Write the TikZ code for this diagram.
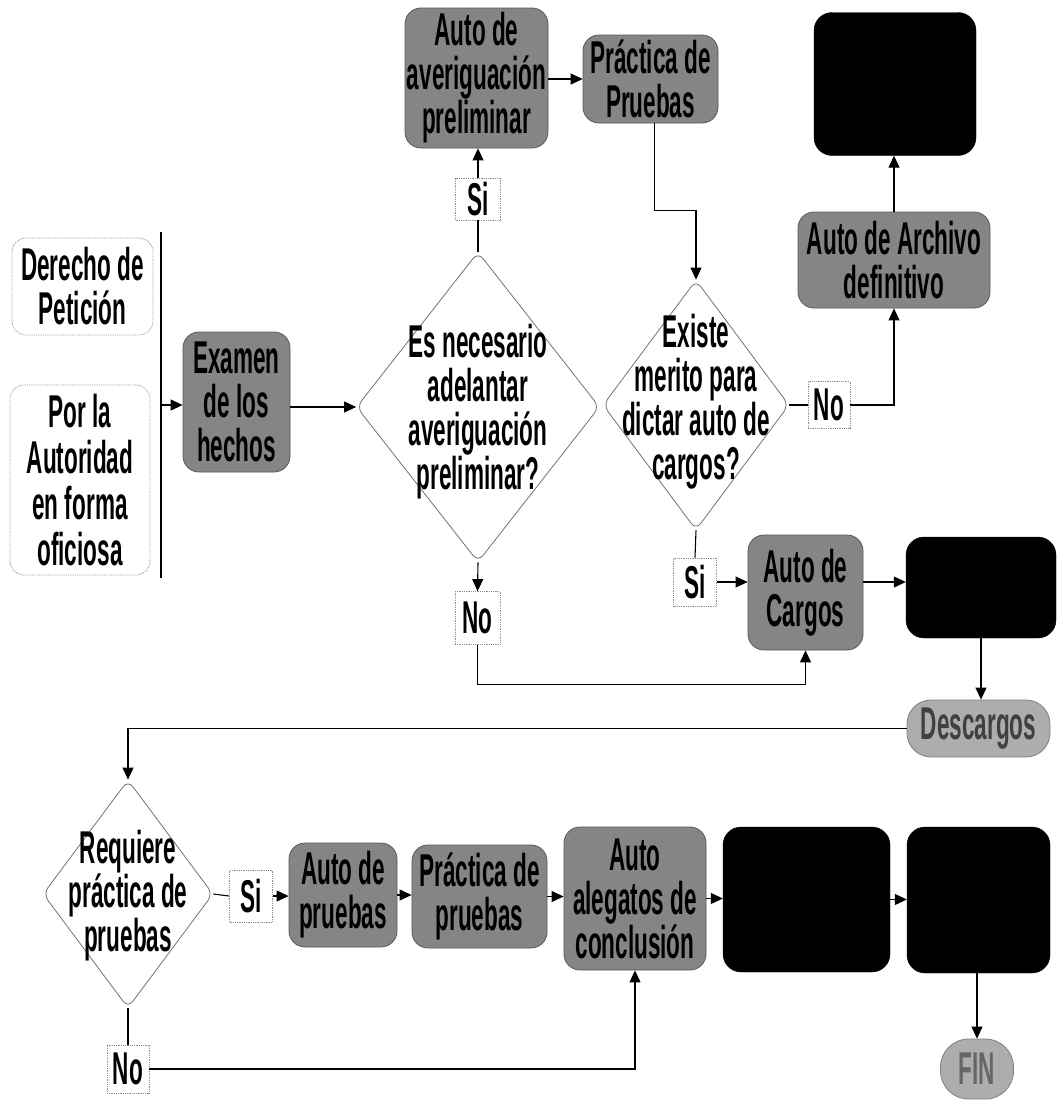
\documentclass[tikz,border=0pt]{standalone}
\usepackage{fontspec}
\setmainfont{Liberation Sans}[FakeStretch=0.49]
\usetikzlibrary{shapes.geometric,arrows.meta}
\begin{document}
\begin{tikzpicture}[x=1pt,y=-1pt,
  every node/.style={font=\fontsize{46}{44}\selectfont\bfseries, align=center, inner sep=0pt},
  gbox/.style={rectangle, rounded corners=16pt, fill=black!48, draw=black!65, line width=0.8pt},
  lbox/.style={rectangle, rounded corners=16pt, fill=black!32, draw=black!50, line width=0.8pt, text=black!75},
  bbox/.style={rectangle, rounded corners=18pt, fill=black, draw=black},
  wbox/.style={rectangle, rounded corners=14pt, draw=black!45, densely dotted, line width=0.8pt},
  lab/.style={rectangle, draw=black!45, densely dotted, fill=white, line width=0.8pt},
  dia/.style={diamond, draw=black!55, rounded corners=8pt, line width=0.8pt, fill=white},
  conn/.style={line width=1.1pt, draw=black},
  arr/.style={conn, -{Triangle[length=12pt,width=11pt]}},
]
\useasboundingbox (0,0) rectangle (1057,1100);

% left sources
\node[wbox, minimum width=141, minimum height=97] (der) at (82.5,286.5) {Derecho de\\Petición};
\node[wbox, minimum width=140, minimum height=190, font=\fontsize{46}{46}\selectfont\bfseries] (por) at (80,480) {Por la\\Autoridad\\en forma\\oficiosa};
\coordinate (vtop) at (161,232);
\coordinate (vbot) at (161,578);
\coordinate (vl) at (161,405);
\draw[conn] (vtop) -- (vbot);

\node[gbox, minimum width=107, minimum height=140] (exa) at (236.5,402) {Examen\\de los\\hechos};

% decision 1
\node[dia, minimum width=243, minimum height=310] (d1) at (478,407) {};
\node (d1t) at (478,412) {Es necesario\\adelantar\\averiguación\\preliminar?};
\node[lab, minimum width=45, minimum height=42] (si1) at (478,199) {Si};
\node[gbox, minimum width=143, minimum height=140] (aap) at (476.5,78) {Auto de\\averiguación\\preliminar};
\node[gbox, minimum width=135, minimum height=88] (ppr) at (650.5,79) {Práctica de\\Pruebas};
\node[lab, minimum width=45, minimum height=53] (no1) at (477.5,618) {No};

% decision 2
\node[dia, minimum width=186, minimum height=250] (d2) at (696,405) {};
\node (d2t) at (696,402) {Existe\\merito para\\dictar auto de\\cargos?};
\node[lab, minimum width=42, minimum height=47] (no2) at (829,405) {No};
\node[gbox, minimum width=192, minimum height=96] (arc) at (894,260) {Auto de Archivo\\definitivo};
\node[bbox, minimum width=162, minimum height=143] (blk1) at (895,84) {};
\node[lab, minimum width=43, minimum height=48] (si2) at (695,582) {Si};
\node[gbox, minimum width=115, minimum height=115] (acg) at (805.5,592.5) {Auto de\\Cargos};
\node[bbox, minimum width=150, minimum height=101] (blk2) at (981,587.5) {};
\node[lbox, rounded corners=24pt, minimum width=143, minimum height=57] (des) at (978.5,728.5) {Descargos};

% decision 3
\node[dia, minimum width=170, minimum height=228] (d3) at (128,894) {};
\node (d3t) at (128,896) {Requiere\\práctica de\\pruebas};
\node[lab, minimum width=43, minimum height=52] (si3) at (251,896) {Si};
\node[gbox, minimum width=108, minimum height=104] (apr) at (343,895) {Auto de\\pruebas};
\node[gbox, minimum width=135, minimum height=103] (ppr2) at (479.5,896.5) {Práctica de\\pruebas};
\node[gbox, minimum width=142, minimum height=143] (ale) at (635,898.5) {Auto\\alegatos de\\conclusión};
\node[bbox, minimum width=167, minimum height=145] (blk3) at (806.5,899.5) {};
\node[bbox, minimum width=143, minimum height=146] (blk4) at (978.5,900) {};
\node[lbox, rounded corners=28pt, minimum width=73, minimum height=60, text=black!60] (fin) at (977,1069) {FIN};
\node[lab, minimum width=42, minimum height=48] (no3) at (128,1069) {No};

% connectors
\draw[arr] (vl) -- (vl -| exa.west);
\draw[arr] (exa.east |- d1) -- (d1.west);
\draw[conn] (d1.north) -- (si1.south);
\draw[arr] (si1.north) -- (si1.north |- aap.south);
\draw[arr] (aap.east |- ppr) -- (ppr.west);
\draw[arr] ([xshift=4pt]ppr.south) -- ++(0,87) -| (d2.north);
\draw[conn] (d2.east) -- (no2.west);
\draw[arr] (no2.east) -| (arc.south);
\draw[arr] (arc.north) -- (arc.north |- blk1.south);
\draw[conn] (d2.south) -- (si2.north);
\draw[arr] (si2.east) -- (si2.east -| acg.west);
\draw[arr] (acg.east |- si2) -- (blk2.west |- si2);
\draw[arr] (d1.south) -- (no1.north);
\draw[arr] (no1.south) -- ++(0,40) -| (acg.south);
\draw[arr] (blk2.south) -- (blk2.south |- des.north);
\draw[arr] (des.west) -| (d3.north);
\draw[conn] (d3.east) -- (si3.west);
\draw[arr] (si3.east) -- (si3.east -| apr.west);
\draw[arr] (apr.east) -- (apr.east -| ppr2.west);
\draw[arr] (ppr2.east) -- (ppr2.east -| ale.west);
\draw[arr] (ale.east) -- (ale.east -| blk3.west);
\draw[arr] (blk3.east) -- (blk3.east -| blk4.west);
\draw[arr] (blk4.south -| fin) -- (fin.north);
\draw[conn] (d3.south) -- (no3.north);
\draw[arr] (no3.east) -| (ale.south);
\end{tikzpicture}
\end{document}
